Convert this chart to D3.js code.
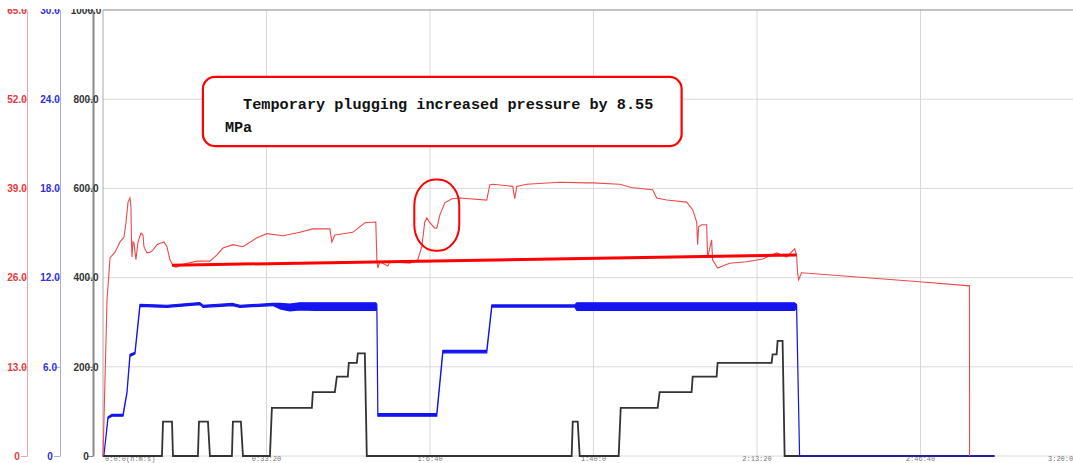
<!DOCTYPE html>
<html>
<head>
<meta charset="utf-8">
<script src="https://cdn.jsdelivr.net/npm/d3@7"></script>
<style>
  html, body { margin: 0; padding: 0; background: #fff; overflow: hidden; }
  svg { display: block; }
</style>
</head>
<body>
<svg id="chart" width="1073" height="463"></svg>
<script>
// ---- Data (time in seconds from start of job) ----
// Treating pressure, MPa (red, left-most axis 0-65)
const pressureTime = [0,12,49,86,147,208,257,281,306,330,
  342,348,355,367,379,403,428,465,489,501,
  538,575,611,660,697,746,782,819,856,892,
  941,1027,1149,1308,1394,1467,1589,1712,1883,2005,
  2201,2408,2567,2775,2800,2836,3056,3203,3337,3350,
  3362,3386,3484,3509,3753,3851,3900,3936,3961,3998,
  4059,4083,4120,4181,4267,4364,4694,4731,4768,5012,
  5037,5061,5183,5587,5917,5990,6320,6479,6724,6773,
  6895,7139,7213,7262,7274,7286,7323,7384,7396,7445,
  7457,7518,7665,7873,8069,8240,8362,8460,8484,8496,
  8509,8545,9988,10599,10600];
const pressureMPa = [0,5.2,22.7,28.9,29.7,31.2,31.9,34.0,37.0,37.6,
  36.3,31.5,29.0,31.2,31.0,28.6,31.2,32.5,32.2,30.5,
  29.6,29.7,30.0,30.8,31.0,31.2,30.5,28.6,27.8,27.5,
  27.8,28.1,28.4,28.4,29.3,30.3,30.8,30.5,31.8,32.4,
  32.1,32.6,33.1,33.1,31.2,32.2,32.6,34.0,34.1,28.6,
  27.4,28.3,27.7,28.3,28.1,28.6,30.5,34.1,34.7,34.0,
  33.2,33.2,35.1,36.9,37.5,37.6,37.3,39.5,39.6,39.3,
  37.5,39.3,39.6,39.9,39.8,39.8,39.6,39.1,38.8,37.6,
  37.3,37.0,35.9,34.1,30.8,33.4,33.7,33.7,28.9,31.5,
  28.6,27.4,28.1,28.3,28.7,29.6,29.0,30.2,29.3,26.8,
  25.7,26.7,25.4,24.8,0];

// Pump rate, m3/min (blue axis 0-30): upper / lower envelope of the fluctuating trace
const rateTime = [0,12,61,110,245,293,330,391,452,782,
  1186,1223,1589,1675,2078,2164,2286,2408,2600,3000,
  3337,3350,3362,4083,4157,4694,4756,5770,5795,8460,
  8484,8521,10905];
const rateHigh = [0,0.07,2.62,2.80,2.80,4.30,6.84,6.98,10.20,10.14,
  10.32,10.14,10.26,10.14,10.26,10.26,10.22,10.30,10.30,10.30,
  10.30,10.20,2.86,2.86,7.10,7.10,10.16,10.16,10.30,10.30,
  10.20,0,0];
const rateLow = [0,0.07,2.52,2.68,2.68,4.22,6.70,6.86,10.06,10.00,
  10.18,10.00,10.12,10.00,10.12,9.90,9.76,9.82,9.80,9.80,
  9.80,10.00,2.68,2.68,6.94,6.94,10.02,10.02,9.80,9.80,
  10.00,0,0];

// Proppant concentration, kg/m3 (black axis 0-1000)
const sandTime = [0,721,734,844,856,1161,1174,1284,1308,1577,
  1589,1687,1712,2042,2066,2555,2567,2836,2861,2995,
  3007,3105,3117,3203,3227,5733,5746,5807,5831,6308,
  6333,6785,6809,7200,7213,7506,7518,8179,8191,8240,
  8252,8313,8338,10905];
const sandConc = [0,0,77,77,0,0,77,77,0,0,
  77,77,0,0,108,108,143,143,178,178,
  209,209,230,230,0,0,77,77,0,0,
  108,108,143,143,178,178,209,209,228,228,
  258,258,0,0];

// Axis ticks
const pressureTicks = [0, 13, 26, 39, 52, 65];
const rateTicks = [0, 6, 12, 18, 24, 30];
const sandTicks = [0, 200, 400, 600, 800, 1000];
const timeTicks = [0, 2000, 4000, 6000, 8000, 10000, 12000];

// Annotations
const baselineStart = { t: 844, p: 27.8 };
const baselineEnd = { t: 8484, p: 29.3 };
const plugMark = { t: 4083, p: 35.1, dt: 275, dp: 5.2 };
const noteBox = { t0: 1222, t1: 7078, s0: 695, s1: 850 };
const noteLines = ["  Temporary plugging increased pressure by 8.55", "MPa"];

// ---- Layout ----
const svg = d3.select("#chart");
const plotLeft = 103, plotTop = 10, plotBottom = 456, plotRight = 1084;

const x = d3.scaleLinear().domain([0, 12000]).range([plotLeft, plotRight]);
const yP = d3.scaleLinear().domain([0, 65]).range([plotBottom, plotTop]);
const yQ = d3.scaleLinear().domain([0, 30]).range([plotBottom, plotTop]);
const yS = d3.scaleLinear().domain([0, 1000]).range([plotBottom, plotTop]);

// Grid
const grid = svg.append("g");
grid.selectAll("line.h").data(sandTicks).join("line")
  .attr("x1", plotLeft).attr("x2", plotRight)
  .attr("y1", d => yS(d)).attr("y2", d => yS(d))
  .attr("stroke", "#d9d9d9").attr("stroke-width", 1);
grid.selectAll("line.v").data(timeTicks.slice(1)).join("line")
  .attr("x1", d => x(d)).attr("x2", d => x(d))
  .attr("y1", plotTop).attr("y2", plotBottom)
  .attr("stroke", "#d9d9d9").attr("stroke-width", 1);
// Plot frame (top and left)
grid.append("line").attr("x1", plotLeft).attr("x2", plotRight)
  .attr("y1", plotTop).attr("y2", plotTop).attr("stroke", "#999").attr("stroke-width", 1);
grid.append("line").attr("x1", plotLeft).attr("x2", plotLeft)
  .attr("y1", plotTop).attr("y2", plotBottom).attr("stroke", "#aaa").attr("stroke-width", 1);

// Time axis labels (h:m:s); first starts at the origin, last is pulled inside the frame
function hms(s) {
  const h = Math.floor(s / 3600), m = Math.floor((s % 3600) / 60), sec = s % 60;
  return `${h}:${m}:${sec}`;
}
const lastTick = timeTicks.length - 1;
svg.append("g").selectAll("text").data(timeTicks).join("text")
  .attr("x", (d, i) => i === 0 ? x(d) + 2 : i === lastTick ? x(d) - 36 : x(d))
  .attr("y", 461)
  .attr("text-anchor", (d, i) => (i === 0 || i === lastTick) ? "start" : "middle")
  .attr("font-family", "'Liberation Mono', monospace")
  .attr("font-size", 7)
  .attr("fill", "#777")
  .text((d, i) => i === 0 ? hms(d) + "(h:m:s)" : hms(d));

// Value axes
svg.append("defs").append("clipPath").attr("id", "axisClip")
  .append("rect").attr("x", 0).attr("y", 9).attr("width", plotLeft).attr("height", 463);
const axesG = svg.append("g").attr("clip-path", "url(#axisClip)");
const fmt = d => d === 0 ? "0" : d.toFixed(1);
function drawAxis(scale, xPos, ticks, textColor, lineColor, lineWidth, labelDx) {
  const g = axesG.append("g").attr("transform", `translate(${xPos},0)`)
    .call(d3.axisLeft(scale).tickValues(ticks).tickSize(6).tickSizeOuter(0).tickFormat(fmt));
  g.select(".domain").attr("stroke", lineColor).attr("stroke-width", lineWidth);
  g.selectAll(".tick line").attr("stroke", lineColor);
  g.selectAll(".tick text")
    .attr("x", labelDx).attr("text-anchor", "middle")
    .attr("fill", textColor)
    .attr("font-family", "'Liberation Sans', Arial, sans-serif")
    .attr("font-weight", "bold").attr("font-size", 10);
}
drawAxis(yP, 27, pressureTicks, "#e8383c", "#f3a3a3", 1, -10);
drawAxis(yQ, 60, rateTicks, "#2f2fe0", "#a9a9f0", 1, -10);
drawAxis(yS, 93, sandTicks, "#333", "#8a8a8a", 2, -7);

// Series
const sandLine = d3.line().x((d, i) => x(sandTime[i])).y(d => yS(d));
svg.append("path").attr("d", sandLine(sandConc))
  .attr("fill", "none").attr("stroke", "#333").attr("stroke-width", 1.8);

const rateArea = d3.area()
  .x((d, i) => x(rateTime[i]))
  .y0((d, i) => yQ(rateLow[i]))
  .y1(d => yQ(d));
svg.append("path").attr("d", rateArea(rateHigh))
  .attr("fill", "#1414f0").attr("stroke", "#1414f0").attr("stroke-width", 1.2)
  .attr("stroke-linejoin", "round");

const pressureLine = d3.line().x((d, i) => x(pressureTime[i])).y(d => yP(d));
svg.append("path").attr("d", pressureLine(pressureMPa))
  .attr("fill", "none").attr("stroke", "#f04848").attr("stroke-width", 1.1);

// Annotations
svg.append("line")
  .attr("x1", x(baselineStart.t)).attr("y1", yP(baselineStart.p))
  .attr("x2", x(baselineEnd.t)).attr("y2", yP(baselineEnd.p))
  .attr("stroke", "#ff0000").attr("stroke-width", 3);

svg.append("rect")
  .attr("x", x(plugMark.t - plugMark.dt)).attr("y", yP(plugMark.p + plugMark.dp))
  .attr("width", x(plugMark.t + plugMark.dt) - x(plugMark.t - plugMark.dt))
  .attr("height", yP(plugMark.p - plugMark.dp) - yP(plugMark.p + plugMark.dp))
  .attr("rx", 21).attr("ry", 26)
  .attr("fill", "none").attr("stroke", "#ff0000").attr("stroke-width", 2);

svg.append("rect")
  .attr("x", x(noteBox.t0)).attr("y", yS(noteBox.s1))
  .attr("width", x(noteBox.t1) - x(noteBox.t0))
  .attr("height", yS(noteBox.s0) - yS(noteBox.s1))
  .attr("rx", 12).attr("ry", 12)
  .attr("fill", "#fff").attr("stroke", "#ff0000").attr("stroke-width", 2.2);

svg.append("g").selectAll("text").data(noteLines).join("text")
  .attr("x", x(noteBox.t0) + 22)
  .attr("y", (d, i) => yS(noteBox.s1) + 32 + i * 23)
  .attr("font-family", "'Liberation Mono', 'Courier New', monospace")
  .attr("font-weight", "bold")
  .attr("font-size", 15.2)
  .attr("fill", "#111")
  .style("white-space", "pre")
  .text(d => d);
</script>
</body>
</html>
